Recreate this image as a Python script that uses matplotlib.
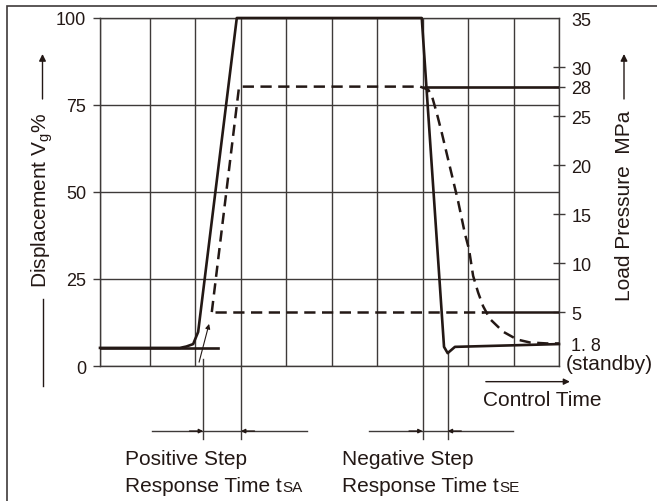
import matplotlib.pyplot as plt

plt.rcParams['font.family'] = ['Liberation Sans', 'DejaVu Sans']

INK = '#231815'
GRID = '#3e3a39'

# time axis (arbitrary units), grid columns
grid_t = [0, 1.1, 2.1, 3.1, 4.1, 5.1, 6.1, 7.1, 8.1, 9.1, 10.1]

# displacement Vg % (solid, left axis)
disp_t = [0, 1.76, 1.9, 2.05, 2.16, 3.01, 7.08, 7.57, 7.65, 7.81, 10.1]
disp_v = [5.2, 5.2, 5.6, 6.3, 9.8, 100, 100, 5.5, 3.7, 5.5, 6.3]

# standby line before the step (left axis)
standby_t = [0, 2.6]
standby_v = [5.2, 5.2]

# load pressure MPa (dashed, right axis)
pres_t = [2.46, 3.06, 7.04, 7.22, 7.30, 7.41, 7.52, 7.70, 7.88, 8.03, 8.12,
          8.21, 8.32, 8.43, 8.58, 8.87, 9.18, 9.46, 9.84, 10.1]
pres_v = [5.0, 28, 28, 27.7, 27.1, 25.3, 23.3, 19.8, 16.3, 13.0, 11.4,
          8.7, 7.0, 5.6, 4.3, 3.0, 2.2, 1.9, 1.8, 1.8]

# level lines on the pressure axis
low_dash_t = [2.53, 8.43]
low_solid_t = [8.43, 10.1]
low_level = 5
high_solid_t = [7.15, 10.1]
high_level = 28

left_ticks = [0, 25, 50, 75, 100]
right_ticks = [1.8, 5, 10, 15, 20, 25, 28, 30, 35]
right_labels = ['1. 8', '5', '10', '15', '20', '25', '28', '30', '35']

# response time markers
tsa = [2.27, 3.1]
tse = [7.1, 7.65]
tsa_span = [1.14, 4.55]
tse_span = [5.92, 9.09]

fig = plt.figure(figsize=(6.57, 5.02), dpi=100)
ax = fig.add_axes([100 / 657, 1 - 367 / 502, 459 / 657, 348 / 502])
ax2 = ax.twinx()

ax.set_xlim(0, 10.1)
ax.set_ylim(0, 100)
ax2.set_ylim(-0.5, 35)

ax.set_xticks(grid_t)
ax.set_yticks(left_ticks)
ax.tick_params(axis='x', length=0, labelbottom=False)
ax.tick_params(axis='y', direction='out', length=5, width=1, color=GRID,
               labelsize=13, pad=5, labelcolor=INK)
ax.grid(True, color=GRID, lw=1.0)
for s in ax.spines.values():
    s.set_color(GRID)
    s.set_linewidth(1.0)
for s in ax2.spines.values():
    s.set_visible(False)

ax2.set_yticks(right_ticks)
ax2.set_yticklabels(right_labels)
ax2.tick_params(axis='y', direction='inout', length=8, width=1, color=GRID,
                labelsize=13, pad=5, labelcolor=INK)
for i, tk in enumerate(ax2.yaxis.get_major_ticks()):
    if right_ticks[i] in (1.8, 35):
        tk.tick2line.set_visible(False)

# curves
ax.plot(disp_t, disp_v, color=INK, lw=1.9, clip_on=False, zorder=5)
ax.plot(standby_t, standby_v, color=INK, lw=1.9, zorder=5)
dash = (0, (4.5, 2.6))
ax2.plot(pres_t, pres_v, color=INK, lw=1.8, ls=dash, zorder=5)
ax2.plot(low_dash_t, [low_level] * 2, color=INK, lw=1.8, ls=dash, zorder=5)
ax2.plot(low_solid_t, [low_level] * 2, color=INK, lw=1.8, zorder=5)
ax2.plot(high_solid_t, [high_level] * 2, color=INK, lw=1.9, zorder=5)

# small arrow pointing at start of pressure rise
ax.annotate('', xy=(2.40, 12.1), xytext=(2.18, 1.1),
            arrowprops=dict(arrowstyle='-|>', lw=0.8, color=INK,
                            mutation_scale=7, shrinkA=0, shrinkB=0))

# response time markers below the chart
y_low = -21
y_bar = -18.7
ax.plot([tsa[0], tsa[0]], [2.0, y_low], color=GRID, lw=1, clip_on=False)
ax.plot([tsa[1], tsa[1]], [0, y_low], color=GRID, lw=1, clip_on=False)
ax.plot([tse[0], tse[0]], [0, y_low], color=GRID, lw=1, clip_on=False)
ax.plot([tse[1], tse[1]], [3.7, y_low], color=GRID, lw=1, clip_on=False)
for span, marks in ((tsa_span, tsa), (tse_span, tse)):
    ax.plot(span, [y_bar, y_bar], color=GRID, lw=1, clip_on=False)
    ax.annotate('', xy=(marks[0], y_bar), xytext=(marks[0] - 0.3, y_bar),
                annotation_clip=False,
                arrowprops=dict(arrowstyle='-|>', lw=1, color=INK,
                                mutation_scale=6, shrinkA=0, shrinkB=0))
    ax.annotate('', xy=(marks[1], y_bar), xytext=(marks[1] + 0.3, y_bar),
                annotation_clip=False,
                arrowprops=dict(arrowstyle='-|>', lw=1, color=INK,
                                mutation_scale=6, shrinkA=0, shrinkB=0))

# control time arrow
ax.annotate('', xy=(10.34, -4.5), xytext=(8.49, -4.5), annotation_clip=False,
            arrowprops=dict(arrowstyle='-|>', lw=1, color=INK,
                            mutation_scale=9, shrinkA=0, shrinkB=0))


def fpx(x, y):
    return (x / 657, 1 - y / 502)


fig.text(*fpx(483, 401), 'Control Time', fontsize=15, color=INK,
         ha='left', va='center')
fig.text(*fpx(566, 365), '(standby)', fontsize=15, color=INK,
         ha='left', va='center')

for x0, name, sub in ((125, 'Positive Step', 'SA'), (342, 'Negative Step', 'SE')):
    fig.text(*fpx(x0, 460), name, fontsize=15, color=INK, ha='left', va='center')
    t2 = fig.text(*fpx(x0, 487), 'Response Time t', fontsize=15, color=INK,
                  ha='left', va='center')
    fig.text(0, 0, '')
    ax.annotate(sub, xy=(1, 0), xycoords=t2, xytext=(0.3, 1.0),
                textcoords='offset points', fontsize=11, color=INK,
                ha='left', va='bottom')

# axis titles with their arrows
fig.text(*fpx(42, 201), 'Displacement V$_{\\mathregular{g}}$%', fontsize=15,
         color=INK, rotation=90, ha='center', va='center')
fig.text(*fpx(624, 206), 'Load Pressure  MPa', fontsize=15,
         color=INK, rotation=90, ha='center', va='center')
fig.add_artist(plt.Line2D([42.7 / 657] * 2, [1 - 300 / 502, 1 - 387 / 502],
                          color=INK, lw=1))
for xa in (42.5, 624):
    ax.annotate('', xy=(xa, 502 - 55), xytext=(xa, 502 - 100),
                xycoords='figure pixels', textcoords='figure pixels',
                arrowprops=dict(arrowstyle='-|>', lw=1, color=INK,
                                mutation_scale=10, shrinkA=0, shrinkB=0))

# outer frame
fig.add_artist(plt.Rectangle((7 / 657, -0.1), 1.2, 1.1 - 7 / 502,
                             transform=fig.transFigure, fill=False,
                             edgecolor=GRID, lw=1.2))

fig.savefig('out.png', dpi=100)
